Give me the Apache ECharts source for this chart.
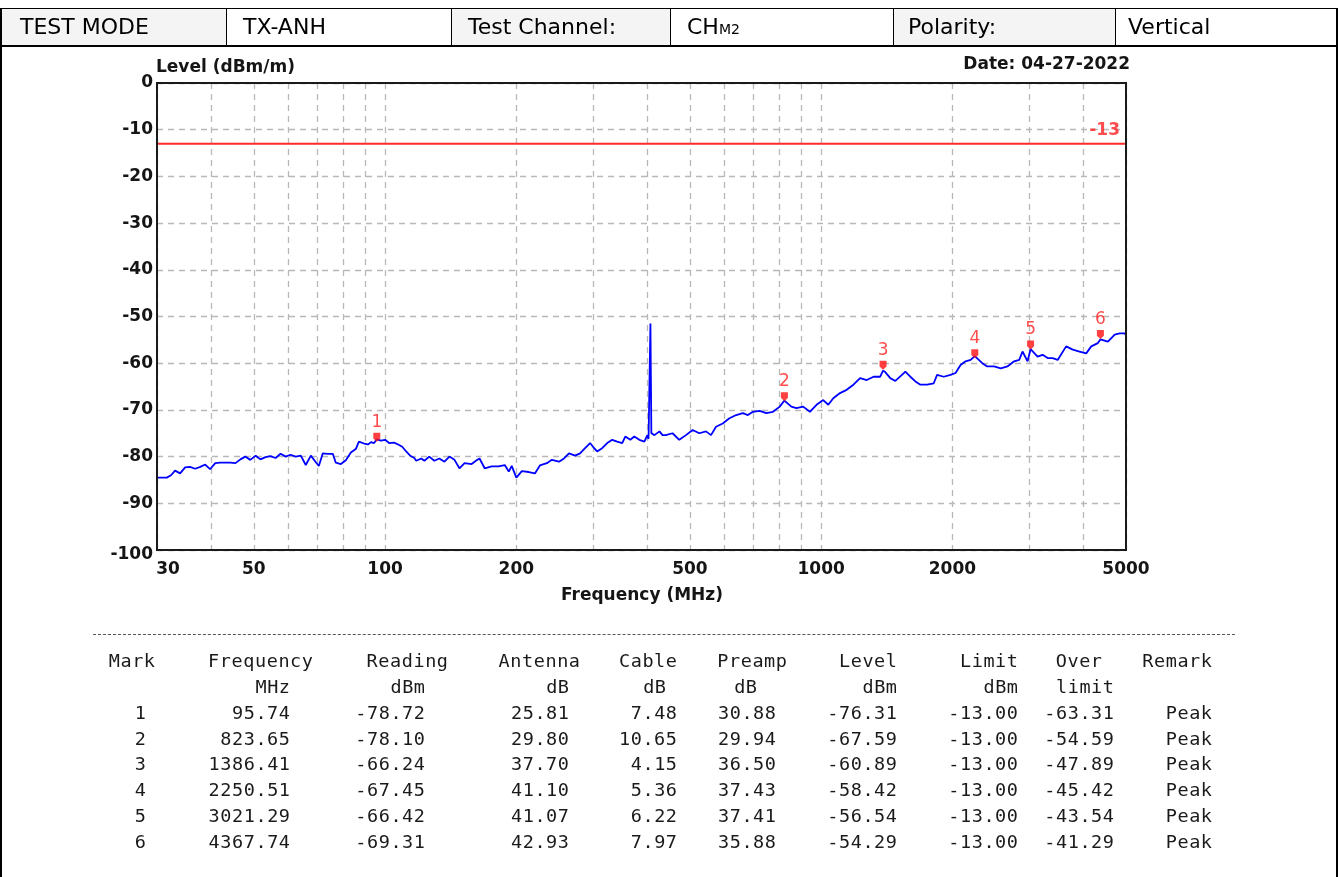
<!DOCTYPE html>
<html>
<head>
<meta charset="utf-8">
<script src="https://cdn.jsdelivr.net/npm/echarts@6/dist/echarts.min.js"></script>
<style>
html,body{margin:0;padding:0;background:#fff;}
body{width:1338px;height:877px;position:relative;overflow:hidden;font-family:"Liberation Sans",Arial,sans-serif;}
#chart{position:absolute;left:0;top:0;width:1338px;height:877px;}
.vline{position:absolute;background:#000;}
#hdr{position:absolute;left:0;top:8px;width:1338px;height:36px;border-top:1px solid #000;border-bottom:2px solid #000;box-sizing:content-box;}
.cell{position:absolute;top:0;height:36px;line-height:36px;font-family:"DejaVu Sans",sans-serif;font-size:22px;color:#000;box-sizing:border-box;white-space:nowrap;}
.cell.lab{background:#f4f4f4;}
.sub{font-size:14px;}
#sep{position:absolute;left:93px;top:634px;width:1142px;height:0;border-top:1.5px dashed #555;}
.t{position:absolute;font-family:"DejaVu Sans Mono",monospace;font-size:18.5px;letter-spacing:0.6px;color:#1a1a1a;line-height:20px;height:20px;white-space:pre;text-align:right;}
</style>
</head>
<body>
<div id="chart"></div>
<div id="hdr">
  <div class="cell lab" style="left:0;width:226px;padding-left:20px;">TEST MODE</div>
  <div class="cell" style="left:226px;width:225px;padding-left:16px;border-left:1px solid #000;">TX-ANH</div>
  <div class="cell lab" style="left:451px;width:219px;padding-left:16px;border-left:1px solid #000;">Test Channel:</div>
  <div class="cell" style="left:670px;width:223px;padding-left:16px;border-left:1px solid #000;">CH<span class="sub">M2</span></div>
  <div class="cell lab" style="left:893px;width:222px;padding-left:14px;border-left:1px solid #000;">Polarity:</div>
  <div class="cell" style="left:1115px;width:223px;padding-left:12px;border-left:1px solid #000;">Vertical</div>
</div>
<div class="vline" style="left:0;top:8px;width:2px;height:869px;"></div>
<div class="vline" style="left:1336px;top:8px;width:2px;height:869px;"></div>
<div id="sep"></div>
<div id="tbl"></div>
<script>
const freqMHz = [
 30.0,30.8,31.6,32.3,33.0,33.9,34.8,35.7,36.7,37.7,38.7,39.7,40.8,41.9,43.0,44.2,45.4,46.6,47.8,49.1,
 50.5,51.8,53.2,54.6,56.1,57.6,59.2,60.7,62.4,64.1,65.8,67.6,69.4,70.5,72.0,73.9,75.9,77.1,79.2,81.3,
 83.5,85.8,87.1,89.5,91.4,92.9,94.4,95.74,97.9,100.0,102.2,104.9,107.2,109.5,111.8,114.2,116.7,117.9,121.1,123.1,
 126.3,129.7,133.2,136.8,140.5,144.3,148.1,152.2,157.9,162.2,164.7,169.2,175.6,182.2,188.1,192.2,195.2,200.0,205.9,213.6,
 220.6,226.5,235.0,241.3,250.5,257.3,264.1,272.7,280.0,287.5,295.3,301.6,306.4,314.6,323.2,331.8,340.7,349.8,355.5,365.1,
 372.9,382.9,393.2,399.5,402.0,404.0,406.0,408.0,414.7,425.9,432.7,440.4,456.3,472.8,489.7,507.3,525.6,544.4,559.0,574.0,
 594.7,616.2,638.5,661.5,679.2,697.6,722.7,748.4,775.4,803.5,823.65,831.8,854.3,877.5,909.3,942.2,975.7,1010.9,1038.2,1066.1,
 1104.7,1144.0,1185.6,1228.4,1272.2,1318.4,1365.9,1386.41,1402.6,1440.3,1479.2,1531.9,1559.7,1601.5,1644.8,1689.0,1749.3,1811.8,1844.2,1910.3,
 1980.0,2033.0,2087.5,2143.5,2201.6,2250.51,2341.1,2404.0,2491.3,2581.1,2673.8,2770.3,2845.3,2895.6,2973.2,3021.29,3052.8,3134.7,3219.0,3306.0,
 3394.5,3485.7,3644.7,3775.2,3911.4,4052.4,4162.2,4310.1,4367.74,4544.1,4710.3,4836.6,4966.5,5000
];
const levelDbm = [
 -84.5,-84.5,-84.5,-84.0,-83.0,-83.6,-82.3,-82.2,-82.6,-82.2,-81.7,-82.7,-81.4,-81.3,-81.3,-81.3,-81.4,-80.6,-80.0,-80.7,
 -79.8,-80.6,-80.1,-79.9,-80.3,-79.4,-80.0,-79.6,-80.0,-79.8,-81.8,-79.8,-81.2,-82.0,-79.3,-79.4,-79.4,-81.3,-81.6,-80.8,
 -79.1,-78.3,-76.8,-77.2,-77.4,-76.9,-77.1,-76.3,-76.6,-76.4,-77.1,-77.0,-77.4,-77.9,-78.9,-79.8,-80.3,-80.9,-80.4,-80.9,
 -80.0,-80.9,-80.4,-81.1,-80.0,-80.7,-82.5,-81.4,-81.6,-80.8,-80.4,-82.5,-82.1,-82.1,-81.8,-83.2,-82.0,-84.5,-83.1,-83.3,
 -83.6,-81.9,-81.4,-80.7,-81.1,-80.4,-79.3,-79.8,-79.3,-78.2,-77.1,-78.2,-78.9,-78.2,-77.1,-76.4,-76.8,-77.1,-75.7,-76.4,
 -75.7,-76.4,-76.8,-75.4,-76.2,-63.8,-51.5,-75.0,-75.4,-74.6,-75.4,-75.4,-75.0,-76.4,-75.4,-74.3,-75.0,-74.6,-75.4,-73.6,
 -72.9,-71.8,-71.1,-70.7,-71.1,-70.4,-70.2,-70.7,-70.4,-69.3,-68.0,-68.2,-69.3,-69.6,-69.3,-70.4,-68.9,-67.9,-68.9,-67.5,
 -66.4,-65.7,-64.6,-63.2,-63.6,-62.9,-62.9,-61.6,-61.9,-63.2,-63.8,-62.5,-61.8,-62.9,-63.9,-64.6,-64.6,-64.3,-62.5,-62.9,
 -62.5,-62.1,-60.4,-59.6,-59.3,-58.5,-60.0,-60.7,-60.7,-61.1,-60.7,-59.6,-59.3,-57.5,-59.6,-57.0,-57.1,-58.6,-58.2,-58.9,
 -58.9,-59.3,-56.4,-57.1,-57.5,-57.9,-56.4,-55.7,-54.9,-55.4,-53.9,-53.6,-53.6,-54.0
];
const limitLevel = -13;

// ---------- axis ticks ----------
const xGridFreq = [30,40,50,60,70,80,90,100,200,300,400,500,600,700,800,900,1000,2000,3000,4000,5000];
const xLabelFreq = [30,50,100,200,500,1000,2000,5000];

// ---------- marker table ----------
const markNo     = [1,2,3,4,5,6];
const markFreq   = [95.74,823.65,1386.41,2250.51,3021.29,4367.74];
const reading    = [-78.72,-78.10,-66.24,-67.45,-66.42,-69.31];
const antenna    = [25.81,29.80,37.70,41.10,41.07,42.93];
const cable      = [7.48,10.65,4.15,5.36,6.22,7.97];
const preamp     = [30.88,29.94,36.50,37.43,37.41,35.88];
const markLevel  = [-76.31,-67.59,-60.89,-58.42,-56.54,-54.29];
const limitCol   = [-13.00,-13.00,-13.00,-13.00,-13.00,-13.00];
const overLimit  = [-63.31,-54.59,-47.89,-45.42,-43.54,-41.29];
const remark     = ['Peak','Peak','Peak','Peak','Peak','Peak'];

// ---------- table (HTML) ----------
(function(){
  const cols = [
    {r:155, h1:'Mark', h2:'', vr:146, vals: markNo.map(String)},
    {r:313, h1:'Frequency', h2:'MHz', h2r:290, vr:290, vals: markFreq.map(v=>v.toFixed(2))},
    {r:448, h1:'Reading', h2:'dBm', h2r:425, vr:425, vals: reading.map(v=>v.toFixed(2))},
    {r:580, h1:'Antenna', h2:'dB', h2r:569, vr:569, vals: antenna.map(v=>v.toFixed(2))},
    {r:677, h1:'Cable', h2:'dB', h2r:666, vr:677, vals: cable.map(v=>v.toFixed(2))},
    {r:787, h1:'Preamp', h2:'dB', h2r:757, vr:776, vals: preamp.map(v=>v.toFixed(2))},
    {r:897, h1:'Level', h2:'dBm', h2r:897, vr:897, vals: markLevel.map(v=>v.toFixed(2))},
    {r:1018, h1:'Limit', h2:'dBm', h2r:1018, vr:1018, vals: limitCol.map(v=>v.toFixed(2))},
    {r:1102, h1:'Over', h2:'limit', h2r:1114, vr:1114, vals: overLimit.map(v=>v.toFixed(2))},
    {r:1212, h1:'Remark', h2:'', vr:1212, vals: remark}
  ];
  const rowY = [661,687,713,739,764,790,816,842];
  const tbl = document.getElementById('tbl');
  function put(text, right, cy){
    const d = document.createElement('div');
    d.className = 't';
    d.textContent = text;
    d.style.right = (1338 - right - 0.6) + 'px';
    d.style.top = (cy - 10) + 'px';
    tbl.appendChild(d);
  }
  cols.forEach(c=>{
    put(c.h1, c.r, rowY[0]);
    if (c.h2) put(c.h2, c.h2r, rowY[1]);
    c.vals.forEach((v,i)=>put(v, c.vr, rowY[2+i]));
  });
})();

// ---------- chart ----------
const FONT = '"DejaVu Sans", sans-serif';
const chart = echarts.init(document.getElementById('chart'), null, {renderer:'canvas'});
const tracePts = freqMHz.map((f,i)=>[f, levelDbm[i]]);
const markerPts = markFreq.map((f,i)=>[f, markLevel[i]]);
const gridLine = {show:true, lineStyle:{type:[6,5], color:'#b8b8b8', width:1.3}};
const axisText = {fontFamily:FONT, fontWeight:'bold', fontSize:17, color:'#151515'};
const G = {left:157, top:83, width:969, height:467};

chart.setOption({
  animation:false,
  backgroundColor:'transparent',
  grid:{left:G.left, top:G.top, width:G.width, height:G.height, show:false, outerBoundsMode:'none', containLabel:false},
  xAxis:{
    type:'log', logBase:10, min:30, max:5000,
    axisLine:{show:false},
    axisTick:{show:false, customValues:xGridFreq},
    splitLine:gridLine,
    minorTick:{show:false}, minorSplitLine:{show:false},
    axisLabel:Object.assign({
      customValues:xLabelFreq, margin:11,
      formatter:function(v){ const n=Math.round(v); return n===30 ? '{f|30}' : String(n); },
      rich:{f:Object.assign({padding:[0,0,0,22]}, axisText)}
    }, axisText)
  },
  yAxis:{
    type:'value', min:-100, max:0, interval:10,
    axisLine:{show:false}, axisTick:{show:false},
    splitLine:gridLine,
    axisLabel:Object.assign({
      margin:4,
      formatter:function(v){ return v===-100 ? '{b|-100}' : String(v); },
      rich:{b:Object.assign({padding:[10,0,0,0]}, axisText)}
    }, axisText)
  },
  graphic:[
    {type:'rect', z:100, silent:true, shape:{x:G.left, y:G.top, width:G.width, height:G.height},
     style:{fill:'none', stroke:'#1a1a1a', lineWidth:2}},
    {type:'text', left:156, top:59, style:{text:'Level (dBm/m)', font:'bold 17px "DejaVu Sans"', fill:'#151515'}},
    {type:'text', right:208, top:56, style:{text:'Date: 04-27-2022', font:'bold 17px "DejaVu Sans"', fill:'#151515'}},
    {type:'text', left:561, top:587, style:{text:'Frequency (MHz)', font:'bold 17px "DejaVu Sans"', fill:'#151515'}}
  ],
  series:[
    {
      name:'Level', type:'line', data:tracePts, showSymbol:false, symbol:'none',
      lineStyle:{color:'#0000ff', width:1.8}, z:3, silent:true
    },
    {
      name:'Limit', type:'line', data:[[30,limitLevel],[5000,limitLevel]], symbol:'none', showSymbol:false,
      lineStyle:{color:'#ff2a2a', width:2}, z:2, silent:true
    },
    {
      name:'LimitLabel', type:'scatter', data:[{value:[5000,limitLevel]}], symbolSize:0,
      label:{show:true, formatter:String(limitLevel), position:'top', align:'right', distance:5, offset:[-6,0],
             fontFamily:FONT, fontWeight:'bold', fontSize:17, color:'#ff2020'},
      z:4, silent:true
    },
    {
      name:'Marks', type:'scatter', data:markerPts,
      symbol:'path://M0,0H10V7L5,11L0,7Z', symbolSize:[7,9], symbolOffset:[0,-2],
      itemStyle:{color:'#ff1010'},
      label:{show:true, position:'top', distance:2, formatter:function(p){return String(markNo[p.dataIndex]);},
             fontFamily:FONT, fontSize:17, color:'#ff2020'},
      z:5, silent:true
    }
  ]
});
</script>
</body>
</html>
